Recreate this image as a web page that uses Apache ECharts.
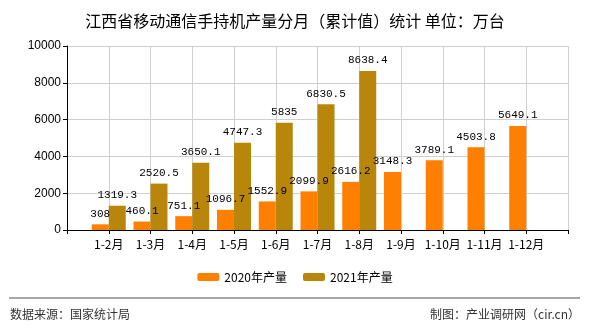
<!DOCTYPE html>
<html><head><meta charset="utf-8">
<script src="https://cdn.jsdelivr.net/npm/echarts@6/dist/echarts.min.js"></script>
<style>html,body{margin:0;padding:0;background:#fff}#c{width:590px;height:330px}</style>
</head><body><div id="c"></div>
<script>
var categories = ['1-2月','1-3月','1-4月','1-5月','1-6月','1-7月','1-8月','1-9月','1-10月','1-11月','1-12月'];
var values2020 = [308, 460.1, 751.1, 1096.7, 1552.9, 2099.9, 2616.2, 3148.3, 3789.1, 4503.8, 5649.1];
var values2021 = [1319.3, 2520.5, 3650.1, 4747.3, 5835, 6830.5, 8638.4, null, null, null, null];
var yTicks = [0, 2000, 4000, 6000, 8000, 10000];

var axisData = [''].concat(categories).concat(['']);
function pad(a){ return [null].concat(a).concat([null]); }
var lblFont = {show:true, position:'top', distance:5, color:'#000', fontSize:11, fontFamily:'Liberation Mono, DejaVu Sans Mono, monospace'};
var chart = echarts.init(document.getElementById('c'));
chart.setOption({
  animation:false,
  title:{text:'江西省移动通信手持机产量分月（累计值）统计 单位：万台', left:'center', top:8,
    textStyle:{fontSize:16, fontWeight:'normal', color:'#000', fontFamily:'Noto Sans CJK SC'}},
  legend:{bottom:42, left:'center', itemWidth:22, itemHeight:8, itemGap:16,
    textStyle:{fontSize:12, color:'#000', fontFamily:'Noto Sans CJK SC'},
    data:['2020年产量','2021年产量']},
  grid:{left:67, right:22, top:46, bottom:100},
  xAxis:{type:'category', data:axisData, boundaryGap:false,
    axisLine:{lineStyle:{color:'#000'}},
    axisTick:{show:true, length:4, lineStyle:{color:'#000'}},
    axisLabel:{color:'#000', fontSize:12, margin:8, fontFamily:'Noto Sans CJK SC', interval:0},
    splitLine:{show:true, lineStyle:{color:'#d0d0d0'}}},
  yAxis:{type:'value', min:yTicks[0], max:yTicks[yTicks.length-1], interval:2000,
    axisLine:{show:true, lineStyle:{color:'#000'}},
    axisTick:{show:true, length:4, lineStyle:{color:'#000'}},
    axisLabel:{color:'#000', fontSize:12, margin:6, fontFamily:'Liberation Sans, Arial',
      formatter:function(v){ return String(v); }},
    splitLine:{show:true, lineStyle:{color:'#d0d0d0'}}},
  series:[
    {name:'2020年产量', type:'bar', data:pad(values2020), barWidth:17, barGap:'0%',
      itemStyle:{color:'#FF8000'}, label:lblFont},
    {name:'2021年产量', type:'bar', data:pad(values2021), barWidth:17, barGap:'0%',
      itemStyle:{color:'#B8860B'}, label:lblFont}
  ],
  graphic:[
    {type:'line', shape:{x1:9, y1:298, x2:580, y2:298}, style:{stroke:'#888', lineWidth:1.5}},
    {type:'text', left:10, top:308, style:{text:'数据来源：国家统计局', fill:'#333', font:'12px "Noto Sans CJK SC"'}},
    {type:'text', right:10, top:308, style:{text:'制图：产业调研网（cir.cn）', fill:'#333', font:'12px "Noto Sans CJK SC"'}}
  ]
});
</script></body></html>
